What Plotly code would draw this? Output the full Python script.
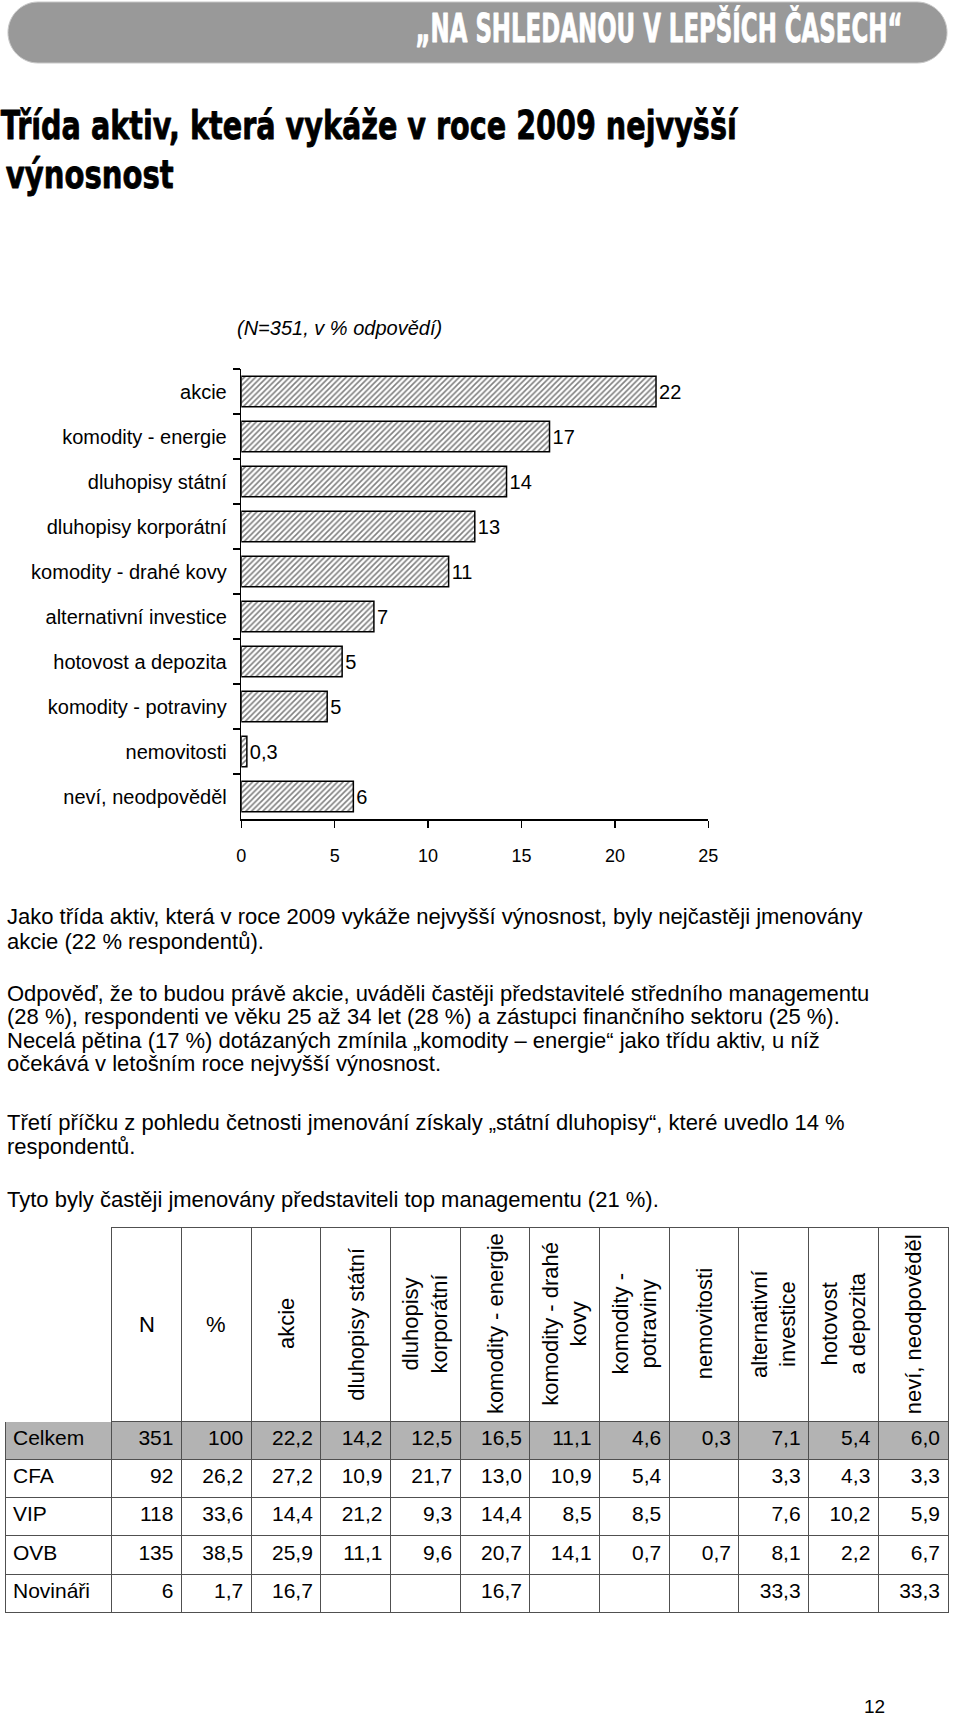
import json
import plotly.graph_objects as go

W, H = 960, 1718
FONT = "Arial, 'Liberation Sans', sans-serif"
HEAVY = "'DejaVu Sans', 'Liberation Sans', sans-serif"

# ---------------- bar chart data ----------------
categories = ["akcie", "komodity - energie", "dluhopisy státní", "dluhopisy korporátní",
              "komodity - drahé kovy", "alternativní investice", "hotovost a depozita",
              "komodity - potraviny", "nemovitosti", "neví, neodpověděl"]
shares = [22.2, 16.5, 14.2, 12.5, 11.1, 7.1, 5.4, 4.6, 0.3, 6.0]
share_labels = ["22", "17", "14", "13", "11", "7", "5", "5", "0,3", "6"]
x_ticks = [0, 5, 10, 15, 20, 25]

# ---------------- table data ----------------
groups = ["Celkem", "CFA", "VIP", "OVB", "Novináři"]
group_n = [351, 92, 118, 135, 6]
group_pct = [100, 26.2, 33.6, 38.5, 1.7]
table_headers = ["N", "%", "akcie", "dluhopisy státní", "dluhopisy<br>korporátní",
                 "komodity - energie", "komodity - drahé<br>kovy", "komodity -<br>potraviny",
                 "nemovitosti", "alternativní<br>investice", "hotovost<br>a depozita",
                 "neví, neodpověděl"]
t_akcie = [22.2, 27.2, 14.4, 25.9, 16.7]
t_dluh_statni = [14.2, 10.9, 21.2, 11.1, None]
t_dluh_korp = [12.5, 21.7, 9.3, 9.6, None]
t_energie = [16.5, 13.0, 14.4, 20.7, 16.7]
t_kovy = [11.1, 10.9, 8.5, 14.1, None]
t_potraviny = [4.6, 5.4, 8.5, 0.7, None]
t_nemovitosti = [0.3, None, None, 0.7, None]
t_alternativni = [7.1, 3.3, 7.6, 8.1, 33.3]
t_hotovost = [5.4, 4.3, 10.2, 2.2, None]
t_nevi = [6.0, 3.3, 5.9, 6.7, 33.3]

# ---------------- texts ----------------
banner_text = "„NA SHLEDANOU V LEPŠÍCH ČASECH“"
title_lines = ["Třída aktiv, která vykáže v roce 2009 nejvyšší", "výnosnost"]
subtitle = "(N=351, v % odpovědí)"
body_lines = [
    "Jako třída aktiv, která v roce 2009 vykáže nejvyšší výnosnost, byly nejčastěji jmenovány",
    "akcie (22 % respondentů).",
    "Odpověď, že to budou právě akcie, uváděli častěji představitelé středního managementu",
    "(28 %), respondenti ve věku 25 až 34 let (28 %) a zástupci finančního sektoru (25 %).",
    "Necelá pětina (17 %) dotázaných zmínila „komodity – energie“ jako třídu aktiv, u níž",
    "očekává v letošním roce nejvyšší výnosnost.",
    "Třetí příčku z pohledu četnosti jmenování získaly „státní dluhopisy“, které uvedlo 14 %",
    "respondentů.",
    "Tyto byly častěji jmenovány představiteli top managementu (21 %).",
]
# layout: baseline (px from top) of every body line
body_baselines = [924.3, 949.3, 1001, 1024.3, 1047.7, 1071, 1130, 1154.3, 1206.7]


def fx(px):
    return px / W


def fy(py):
    return 1 - py / H


def fmt(v):
    if v is None:
        return ""
    if v >= 100:
        return str(int(v))
    return f"{v:.1f}".replace(".", ",")


fig = go.Figure()

fig.add_trace(go.Bar(
    x=shares, y=categories, orientation="h",
    text=share_labels, textposition="outside", constraintext="none",
    textfont=dict(size=20, color="black", family=FONT),
    cliponaxis=False, width=0.68,
    marker=dict(color="white", line=dict(color="black", width=1.5),
                pattern=dict(shape="/", fgcolor="black", bgcolor="white", size=4, solidity=0.4)),
    hoverinfo="skip",
))

# ---------------- table ----------------
num_cols = [t_akcie, t_dluh_statni, t_dluh_korp, t_energie, t_kovy, t_potraviny,
            t_nemovitosti, t_alternativni, t_hotovost, t_nevi]
cell_values = ([groups, [str(n) for n in group_n], [fmt(v) for v in group_pct]]
               + [[fmt(v) for v in c] for c in num_cols])
ncols = len(cell_values)
row_fill = ["#b3b3b3", "white", "white", "white", "white"]
col0_w = 108.5
col_w = 70.8
line_col = "#505050"

fig.add_trace(go.Table(
    domain=dict(x=[0, fx(958.5)], y=[fy(1660), fy(1227)]),
    columnwidth=[col0_w] + [col_w] * (ncols - 1),
    header=dict(values=[""] * ncols, height=194, fill=dict(color="white"),
                line=dict(color=["white"] + [line_col] * (ncols - 1), width=1)),
    cells=dict(values=cell_values, height=38.3,
               align=["left"] + ["right"] * (ncols - 1),
               fill=dict(color=[row_fill] * ncols),
               line=dict(color=line_col, width=1),
               font=dict(size=21, color="black", family=FONT)),
))

annotations = []
for i, lab in enumerate(table_headers):
    cx = col0_w + col_w * (i + 0.5)
    annotations.append(dict(
        x=fx(cx), y=fy(1324), xref="paper", yref="paper", showarrow=False,
        text=lab, textangle=0 if lab in ("N", "%") else -90,
        xanchor="center", yanchor="middle",
        font=dict(size=22, color="black", family=FONT)))

# banner + title: heavy condensed look (exact width + vertical stretch in post script)
squeeze = {
    banner_text: [487, 1.8, "white", 0.5],
    title_lines[0]: [736, 1.42, "black", 0.6],
    title_lines[1]: [168, 1.42, "black", 0.6],
}
annotations.append(dict(
    x=fx(664.5), y=fy(28.5), xref="paper", yref="paper", showarrow=False,
    text=banner_text, xanchor="center", yanchor="middle",
    font=dict(size=22, color="white", family=HEAVY, weight="bold")))
for txt, cx, cy in ((title_lines[0], 370, 125), (title_lines[1], 86, 174.5)):
    annotations.append(dict(
        x=fx(cx), y=fy(cy), xref="paper", yref="paper", showarrow=False,
        text=txt, xanchor="center", yanchor="middle",
        font=dict(size=28, color="black", family=HEAVY, weight="bold")))

annotations.append(dict(
    x=fx(234), y=fy(328), xref="paper", yref="paper", showarrow=False,
    text=f"<i>{subtitle}</i>", xanchor="left", yanchor="middle",
    font=dict(size=20, color="black", family=FONT)))

for txt, base in zip(body_lines, body_baselines):
    annotations.append(dict(
        x=fx(0), y=fy(base - 7.7), xref="paper", yref="paper", showarrow=False,
        text=txt, xanchor="left", yanchor="middle", align="left",
        font=dict(size=22, color="black", family=FONT)))

annotations.append(dict(
    x=fx(883), y=fy(1706.5), xref="paper", yref="paper", showarrow=False,
    text="12", xanchor="center", yanchor="middle",
    font=dict(size=19, color="black", family=FONT)))


def rounded_path(x0, y0, x1, y1):
    r = (y1 - y0) / 2
    k = 0.5523 * r
    P = lambda x, y: f"{fx(x):.6f},{fy(y):.6f}"
    return (f"M {P(x0 + r, y0)} L {P(x1 - r, y0)} "
            f"C {P(x1 - r + k, y0)} {P(x1, y0 + r - k)} {P(x1, y0 + r)} "
            f"C {P(x1, y0 + r + k)} {P(x1 - r + k, y1)} {P(x1 - r, y1)} "
            f"L {P(x0 + r, y1)} "
            f"C {P(x0 + r - k, y1)} {P(x0, y0 + r + k)} {P(x0, y0 + r)} "
            f"C {P(x0, y0 + r - k)} {P(x0 + r - k, y0)} {P(x0 + r, y0)} Z")


shapes = [dict(type="path", xref="paper", yref="paper", path=rounded_path(3, 2, 957, 63),
               fillcolor="#999999", line=dict(color="#c8c8c8", width=1), layer="below")]

fig.update_layout(
    width=W, height=H, margin=dict(l=0, r=0, t=0, b=0, pad=0),
    paper_bgcolor="white", plot_bgcolor="white", showlegend=False,
    font=dict(family=FONT, color="black"),
    bargap=0.32,
    xaxis=dict(domain=[fx(240), fx(714.5)], range=[0, 25], tickvals=x_ticks,
               ticks="outside", ticklen=7, tickwidth=1.5, tickcolor="black",
               showline=True, linecolor="black", linewidth=1.5, showgrid=False, zeroline=False,
               tickfont=dict(size=18, color="black", family=FONT), ticklabelstandoff=13,
               fixedrange=True),
    yaxis=dict(domain=[fy(819), fy(369)], type="category", categoryorder="array",
               categoryarray=categories, autorange="reversed",
               ticks="outside", tickson="boundaries", ticklen=7, tickwidth=1.5, tickcolor="black",
               showline=True, linecolor="black", linewidth=1.5, showgrid=False, zeroline=False,
               tickfont=dict(size=20, color="black", family=FONT), ticklabelstandoff=9,
               fixedrange=True),
    annotations=annotations,
    shapes=shapes,
)

post_script = """
document.documentElement.style.margin = '0';
document.body.style.margin = '0';
document.body.style.padding = '0';
document.documentElement.style.overflow = 'hidden';
document.body.style.overflow = 'hidden';
var gd = document.getElementById('{plot_id}');
var spec = __SPEC__;
gd.querySelectorAll('text.annotation-text').forEach(function (t) {
  var s = spec[t.textContent];
  if (s) {
    t.setAttribute('textLength', s[0]);
    t.setAttribute('lengthAdjust', 'spacingAndGlyphs');
    t.style.transformBox = 'fill-box';
    t.style.transformOrigin = '50% 50%';
    t.style.transform = 'scaleY(' + s[1] + ')';
    t.style.stroke = s[2];
    t.style.strokeWidth = s[3] + 'px';
    t.style.strokeLinejoin = 'round';
  }
});
""".replace("__SPEC__", json.dumps(squeeze))

fig.write_html("out.html", post_script=post_script,
               config={"displayModeBar": False, "responsive": False, "staticPlot": True})
